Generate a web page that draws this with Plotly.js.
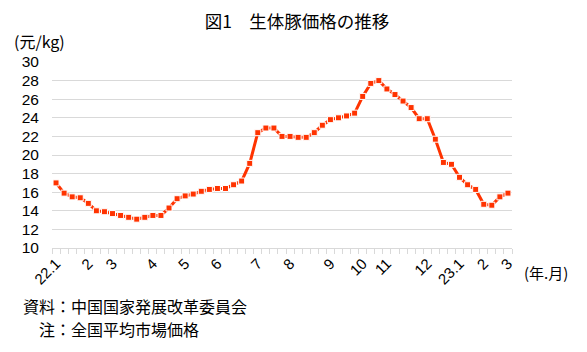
<!DOCTYPE html>
<html>
<head>
<meta charset="utf-8">
<script src="https://cdn.plot.ly/plotly-3.0.1.min.js"></script>
<style>html,body{margin:0;padding:0;background:#fff;}#chart{width:587px;height:352px;}</style>
</head>
<body>
<div id="chart"></div>
<script>
// Weekly live hog price (元/kg), 57 observations
const prices = [17.0, 15.9, 15.5, 15.4, 14.8, 14.0, 13.9, 13.7, 13.5, 13.3,
  13.1, 13.3, 13.5, 13.5, 14.3, 15.3, 15.6, 15.8, 16.1, 16.3,
  16.4, 16.4, 16.8, 17.2, 19.1, 22.4, 22.9, 22.9, 22.0, 22.0,
  21.9, 21.9, 22.4, 23.2, 23.8, 24.0, 24.2, 24.5, 26.3, 27.7,
  28.0, 27.1, 26.5, 25.8, 25.1, 23.9, 23.9, 21.7, 19.2, 19.0,
  17.6, 16.8, 16.3, 14.7, 14.6, 15.5, 15.9];
const weekIndex = prices.map((_, i) => i);
const monthTickIndex = [0, 4, 7, 12, 16, 20, 25, 29, 34, 38, 41, 46, 50, 53, 56];
const monthTickLabels = ["22.1", "2", "3", "4", "5", "6", "7", "8", "9", "10", "11", "12", "23.1", "2", "3"];
const yTicks = [10, 12, 14, 16, 18, 20, 22, 24, 26, 28, 30];

const FONT = '"Noto Sans CJK JP", "Noto Sans", sans-serif';
const NUMFONT = '"Liberation Sans", Arial, sans-serif';
const L = 52, R = 512, T = 62, B = 248;
const px = x => (x - L) / (R - L);
const py = y => (B - y) / (B - T);

const trace = {
  x: weekIndex,
  y: prices,
  type: 'scatter',
  mode: 'lines+markers',
  line: {color: '#ff3300', width: 3},
  marker: {color: '#ff3300', size: 6, symbol: 'square', line: {color: '#ffffff', width: 1}},
  hoverinfo: 'skip'
};

const layout = {
  width: 587, height: 352,
  margin: {l: L, r: 587 - R, t: T, b: 352 - B, pad: 0},
  paper_bgcolor: '#ffffff', plot_bgcolor: '#ffffff',
  showlegend: false,
  font: {family: FONT, color: '#000000', size: 15},
  title: {text: '図1　生体豚価格の推移', font: {family: FONT, size: 17.5, color: '#000'},
          x: 297 / 587, xanchor: 'center', y: 1 - 22 / 352, yanchor: 'middle', xref: 'container', yref: 'container'},
  xaxis: {
    range: [-0.5, weekIndex.length - 0.5],
    tickmode: 'array', tickvals: monthTickIndex, ticktext: monthTickLabels,
    tickangle: -45, ticks: '', showgrid: false, zeroline: false,
    showline: true, linecolor: '#d9d9d9', linewidth: 1,
    tickfont: {family: NUMFONT, size: 15, color: '#000'},
    minor: {ticks: 'outside', ticklen: 5, tickcolor: '#d9d9d9', tickwidth: 1, tick0: -0.5, dtick: 1, showgrid: false},
    fixedrange: true
  },
  yaxis: {
    range: [10, 30], tickmode: 'array', tickvals: yTicks, ticktext: yTicks.map(String),
    showgrid: true, gridcolor: '#d9d9d9', gridwidth: 1, zeroline: false, showline: false,
    ticks: '', ticklabelstandoff: 12,
    tickfont: {family: NUMFONT, size: 15.5, color: '#000'},
    fixedrange: true
  },
  annotations: [
    {text: '(元/kg)', xref: 'paper', yref: 'paper', x: px(12), y: py(41), xanchor: 'left', yanchor: 'middle',
     showarrow: false, font: {family: FONT, size: 16, color: '#000'}},
    {text: '(年.月)', xref: 'paper', yref: 'paper', x: px(522), y: py(272), xanchor: 'left', yanchor: 'middle',
     showarrow: false, font: {family: FONT, size: 15, color: '#000'}},
    {text: '資料：中国国家発展改革委員会', xref: 'paper', yref: 'paper', x: px(21), y: py(306), xanchor: 'left', yanchor: 'middle',
     showarrow: false, font: {family: FONT, size: 16, color: '#000'}},
    {text: '注：全国平均市場価格', xref: 'paper', yref: 'paper', x: px(37), y: py(329), xanchor: 'left', yanchor: 'middle',
     showarrow: false, font: {family: FONT, size: 16, color: '#000'}}
  ]
};

Plotly.newPlot('chart', [trace], layout, {displayModeBar: false, staticPlot: true});
</script>
</body>
</html>
